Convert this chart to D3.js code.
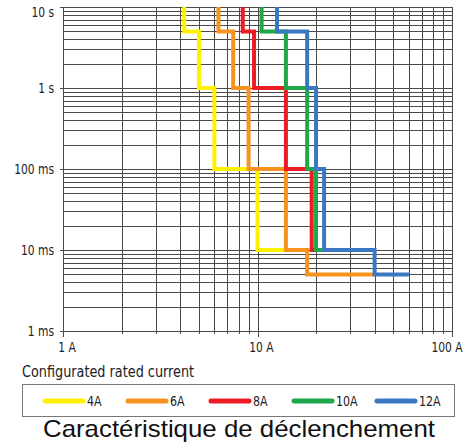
<!DOCTYPE html>
<html lang="fr">
<head>
    <meta charset="UTF-8">
    <script src="https://d3js.org/d3.v7.min.js"></script>
    <title>Caractéristique de déclenchement</title>
    <style>
        body {
            margin: 0;
            background-color: #ffffff;
        }
        .narrow {
            font-family: "Liberation Sans Narrow", "DejaVu Sans Condensed", "Roboto", sans-serif;
            font-stretch: condensed;
            fill: #222;
        }
        .title {
            font-family: "Liberation Sans", Arial, sans-serif;
            fill: #111;
        }
    </style>
</head>
<body>
    <svg id="chart" width="468" height="446"></svg>

    <script>
        // time levels where the curves step down (seconds)
        const levels = [10, 5, 1, 0.1, 0.01, 0.005];

        // current (A) at each step of every curve, last one is where the line ends
        const series = ["4A", "6A", "8A", "10A", "12A"];
        const colors = ["#fff200", "#f7931e", "#ed1c24", "#1fa84a", "#3b78c2"];
        const steps4A  = [4.2, 5, 6, 10, 14];
        const steps6A  = [6.3, 7.5, 9, 14, 18, 40];
        const steps8A  = [8.4, 9.6, 14, 19, 20];
        const steps10A = [10.5, 14, 18, 20, 22];
        const steps12A = [12.6, 18, 20, 22, 40, 60];
        const allSteps = [steps4A, steps6A, steps8A, steps10A, steps12A];

        const xTicks = [1, 10, 100];
        const xTickLabels = ["1 A", "10 A", "100 A"];
        const yTicks = [0.001, 0.01, 0.1, 1, 10];
        const yTickLabels = ["1 ms", "10 ms", "100 ms", "1 s", "10 s"];

        const svg = d3.select("#chart");

        const x = d3.scaleLog().domain([1, 100]).range([63, 452]);
        const y = d3.scaleLog().domain([0.001, 10]).range([331, 7]);
        const snap = v => Math.round(v) + 0.5;

        // squeeze text horizontally to look like a condensed face
        const squeeze = (sel, k) => sel.each(function () {
            const w = this.getComputedTextLength();
            d3.select(this).attr("textLength", w * k).attr("lengthAdjust", "spacingAndGlyphs");
        });

        // grid
        const grid = svg.append("g")
            .attr("stroke", "#4a4a4a")
            .attr("stroke-width", 1)
            .attr("shape-rendering", "crispEdges");

        grid.selectAll("line.v")
            .data(x.ticks())
            .enter().append("line")
            .attr("class", "v")
            .attr("x1", d => snap(x(d))).attr("x2", d => snap(x(d)))
            .attr("y1", snap(y(10))).attr("y2", d => snap(y(0.001)) + (xTicks.includes(d) ? 5 : 2));

        grid.selectAll("line.h")
            .data(y.ticks())
            .enter().append("line")
            .attr("class", "h")
            .attr("y1", d => snap(y(d))).attr("y2", d => snap(y(d)))
            .attr("x1", d => snap(x(1)) - (yTicks.includes(d) ? 4 : 0)).attr("x2", snap(x(100)));

        // y labels
        svg.selectAll("text.ylab")
            .data(yTicks)
            .enter().append("text")
            .attr("class", "ylab narrow")
            .attr("x", 54)
            .attr("y", d => Math.max(y(d), 12))
            .attr("dy", "0.35em")
            .attr("text-anchor", "end")
            .attr("font-size", 14)
            .text((d, i) => yTickLabels[i])
            .call(squeeze, 0.85);

        // x labels
        svg.selectAll("text.xlab")
            .data(xTicks)
            .enter().append("text")
            .attr("class", "xlab narrow")
            .attr("x", d => Math.min(x(d) + 4, 447))
            .attr("y", 352)
            .attr("text-anchor", "middle")
            .attr("font-size", 14)
            .text((d, i) => xTickLabels[i])
            .call(squeeze, 0.85);

        // trip curves
        const line = d3.line().x(d => x(d[0])).y(d => y(d[1]));

        const stepPoints = s => {
            const pts = [];
            for (let i = 0; i < s.length - 1; i++) {
                pts.push([s[i], levels[i]], [s[i], levels[i + 1]]);
            }
            pts.push([s[s.length - 1], levels[s.length - 1]]);
            return pts;
        };

        svg.append("g").selectAll("path")
            .data(allSteps)
            .enter().append("path")
            .attr("d", d => line(stepPoints(d)))
            .attr("fill", "none")
            .attr("stroke", (d, i) => colors[i])
            .attr("stroke-width", 4)
            .attr("stroke-linejoin", "miter");

        // legend
        svg.append("text")
            .attr("class", "narrow")
            .attr("x", 22)
            .attr("y", 377)
            .attr("font-size", 15.5)
            .text("Configurated rated current")
            .call(squeeze, 0.92);

        svg.append("rect")
            .attr("x", 22.5).attr("y", 384.5)
            .attr("width", 432).attr("height", 32)
            .attr("fill", "none")
            .attr("stroke", "#777")
            .attr("stroke-width", 1);

        const legend = svg.append("g").selectAll("g")
            .data(series)
            .enter().append("g")
            .attr("transform", (d, i) => `translate(${45 + i * 83},401)`);

        legend.append("line")
            .attr("x1", 0).attr("x2", 38)
            .attr("stroke", (d, i) => colors[i])
            .attr("stroke-width", 5)
            .attr("stroke-linecap", "round");

        legend.append("text")
            .attr("class", "narrow")
            .attr("x", 42)
            .attr("y", 5)
            .attr("font-size", 14)
            .text(d => d)
            .call(squeeze, 0.88);

        svg.append("text")
            .attr("class", "title")
            .attr("x", 239)
            .attr("y", 437)
            .attr("text-anchor", "middle")
            .attr("font-size", 24)
            .attr("textLength", 392)
            .attr("lengthAdjust", "spacingAndGlyphs")
            .text("Caractéristique de déclenchement");
    </script>
</body>
</html>
